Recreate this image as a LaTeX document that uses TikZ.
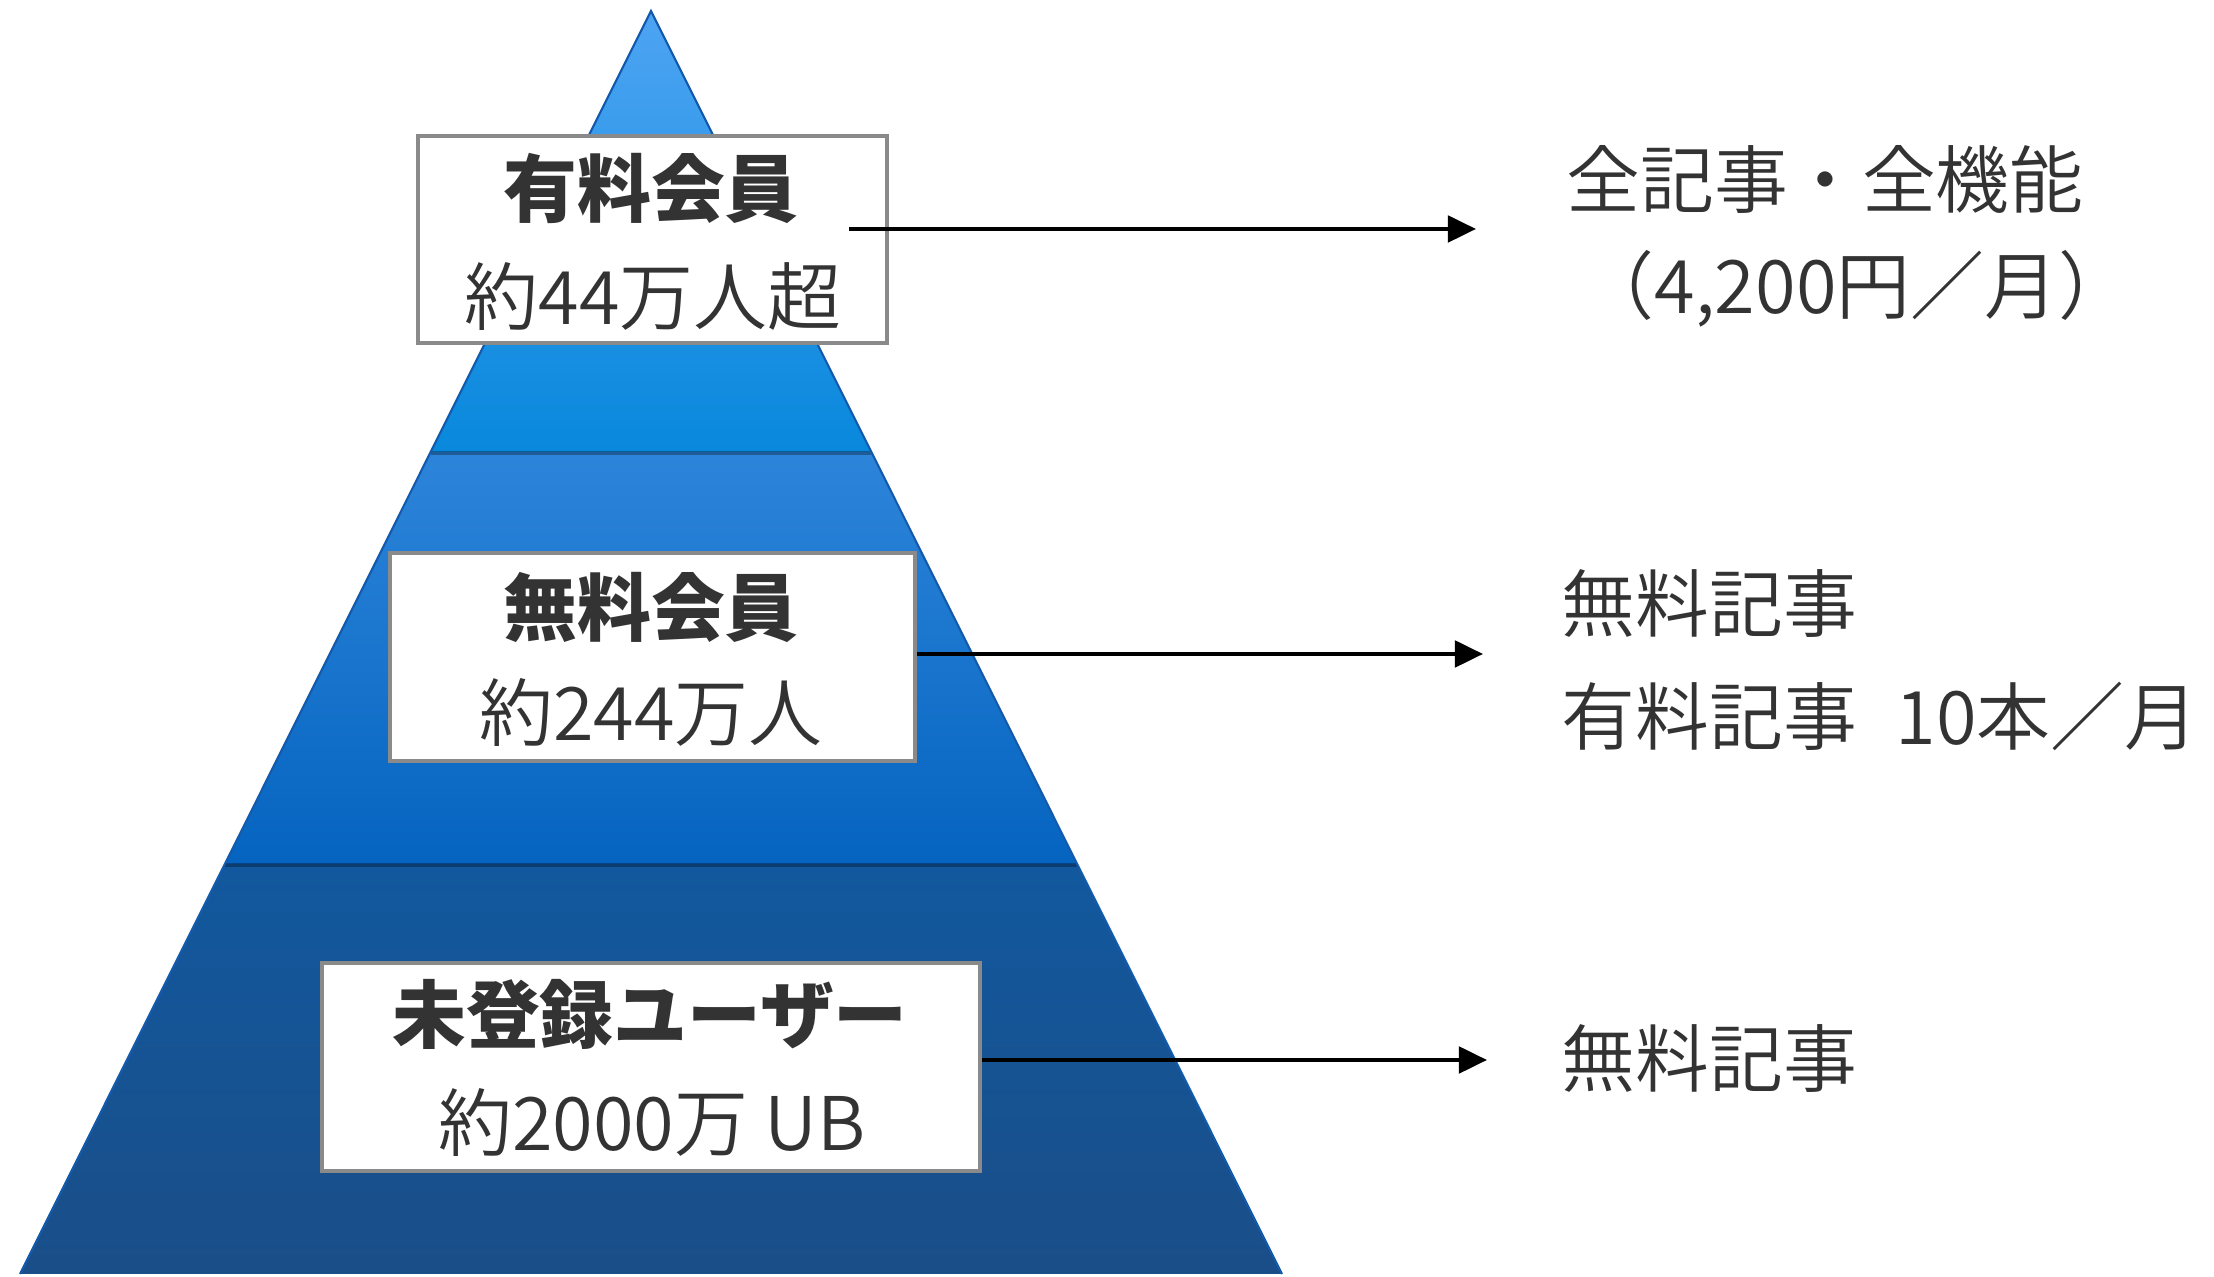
\documentclass[tikz,border=0pt]{standalone}
\usepackage{fontspec}
\newfontfamily\jp{Noto Sans CJK JP}
\newfontfamily\jpl{Noto Sans CJK JP DemiLight}
\usetikzlibrary{arrows.meta}
\definecolor{txt}{HTML}{333333}
\definecolor{boxline}{HTML}{8A8A8A}
\definecolor{tA}{RGB}{78,164,243}
\definecolor{tB}{RGB}{8,136,220}
\definecolor{mA}{RGB}{45,133,218}
\definecolor{mB}{RGB}{5,100,192}
\definecolor{bA}{RGB}{18,88,158}
\definecolor{bB}{RGB}{26,78,136}
\definecolor{edge}{RGB}{20,90,170}
\begin{document}
\begin{tikzpicture}[x=0.01cm,y=-0.01cm,
  box/.style={draw=boxline,line width=1.1pt,fill=white,inner sep=0pt},
  lbl/.style={font=\jpl\fontsize{21pt}{25pt}\selectfont,text=txt,inner sep=0pt},
  head/.style={lbl,font=\jp\bfseries\fontsize{21pt}{25pt}\selectfont},
  side/.style={lbl,anchor=west},
  arr/.style={line width=1.2pt,-{Triangle[length=8pt,width=7.5pt]}},
  seam/.style={line width=1.2pt,draw=black,draw opacity=0.3}]
\useasboundingbox (0,0) rectangle (2214,1277);
\fill[white] (0,0) rectangle (2214,1277);
% pyramid bands
\shade[top color=bA,bottom color=bB] (224.8,864) -- (1077.2,864) -- (1282,1274) -- (20,1274) -- cycle;
\shade[top color=mA,bottom color=mB] (430.7,452) -- (871.3,452) -- (1077.2,864) -- (224.8,864) -- cycle;
\shade[top color=tA,bottom color=tB] (651,11) -- (871.3,452) -- (430.7,452) -- cycle;
\draw[seam] (430.7,453) -- (871.3,453);
\draw[seam] (224.8,865) -- (1077.2,865);
\draw[edge,line width=0.6pt] (20,1274) -- (651,11) -- (1282,1274);
% boxes
\node[box,minimum width=4.69cm,minimum height=2.07cm] (b1) at (652.5,239.5) {};
\node[box,minimum width=5.25cm,minimum height=2.08cm] (b2) at (652.5,657) {};
\node[box,minimum width=6.58cm,minimum height=2.08cm] (b3) at (651,1067) {};
\node[head] (h1) at (651,188) {有料会員};
\node[lbl]  (n1) at (653,297) {約44万人超};
\node[head] (h2) at (651,607) {無料会員};
\node[lbl]  (n2) at (651,713) {約244万人};
\node[head] (h3) at (650,1014) {未登録ユーザー};
\node[lbl]  (n3) at (652,1123) {約2000万 UB};
% arrows
\coordinate (s1) at (849,229);
\coordinate (e1) at (1476,229);
\coordinate (e2) at (1483,654);
\coordinate (e3) at (1487,1060);
\draw[arr] (s1) -- (e1);
\draw[arr] (b2.east |- e2) -- (e2);
\draw[arr] (b3.east |- e3) -- (e3);
% right texts
\node[side] (r1a) at (1566,179) {全記事・全機能};
\node[side] (r1b) at (1580,289) {（4,200円／月）};
\node[side] (r2a) at (1561,604) {無料記事};
\node[side] (r2b) at (1561,716) {有料記事\hspace{0.3em} 10本／月};
\node[side] (r3)  at (1561,1059) {無料記事};
\end{tikzpicture}
\end{document}
